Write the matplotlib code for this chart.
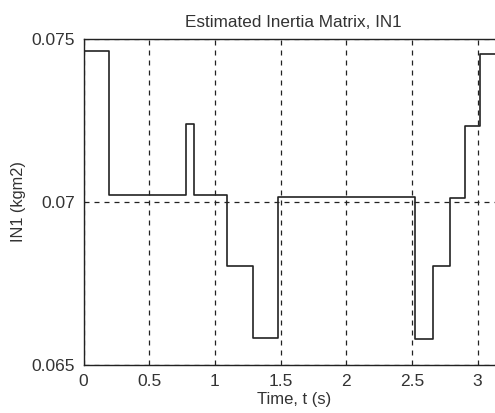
import matplotlib
matplotlib.use("Agg")
import matplotlib.pyplot as plt

# switching instants (s) and the estimated IN1 held after each one
t_switch = [0.0, 0.195, 0.783, 0.839, 1.09, 1.29, 1.48, 2.52, 2.66, 2.79, 2.90, 3.02, 3.2]
in1_est = [0.07464, 0.07021, 0.07241, 0.07020, 0.06802, 0.06582, 0.07016,
           0.06578, 0.06802, 0.07012, 0.07234, 0.07456, 0.07456]

xticks = [0, 0.5, 1, 1.5, 2, 2.5, 3]
xtick_labels = ["0", "0.5", "1", "1.5", "2", "2.5", "3"]
yticks = [0.065, 0.07, 0.075]
ytick_labels = ["0.065", "0.07", "0.075"]

plt.rcParams["font.family"] = ["Liberation Sans", "DejaVu Sans"]

fig = plt.figure(figsize=(4.95, 4.13), dpi=100)
ax = fig.add_axes([0.169, 0.117, 0.849, 0.788])

ax.step(t_switch, in1_est, where="post", color="#222222", lw=1.2)

ax.set_xlim(0, 3.2)
ax.set_ylim(0.065, 0.075)
ax.set_xticks(xticks)
ax.set_xticklabels(xtick_labels)
ax.set_yticks(yticks)
ax.set_yticklabels(ytick_labels)
ax.tick_params(direction="in", length=0, labelsize=12.5, colors="#333333")
ax.tick_params(axis="x", pad=7)
ax.tick_params(axis="y", pad=6)
ax.grid(True, color="#222222", linestyle=(0, (4, 4)), lw=0.9)

for s in ax.spines.values():
    s.set_color("#222222")
    s.set_linewidth(1.0)

ax.set_title("Estimated Inertia Matrix, IN1", fontsize=12.3, color="#333333", pad=9)
ax.set_xlabel("Time, t (s)", fontsize=12, color="#333333", labelpad=2)
ax.set_ylabel("IN1 (kgm2)", fontsize=11.7, color="#333333", labelpad=4)

fig.savefig("out.png", dpi=100)
